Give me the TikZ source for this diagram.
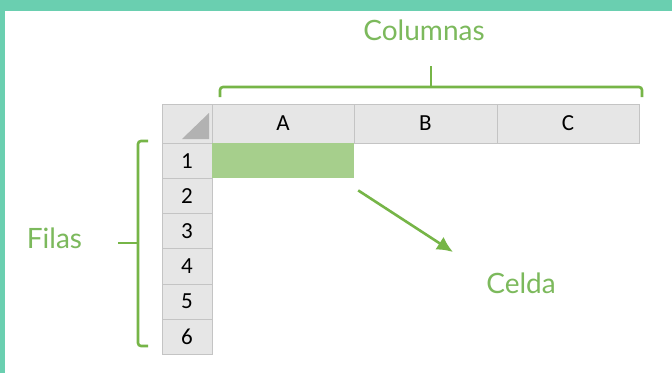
\documentclass[tikz,border=0pt]{standalone}
\usepackage{fontspec}
\setmainfont{Lato}
\newfontfamily\gridfont{Carlito}
\usetikzlibrary{arrows.meta}
\definecolor{frame_teal}{RGB}{106,207,176}
\definecolor{label_green}{RGB}{124,185,92}
\definecolor{brace_green}{RGB}{118,181,71}
\definecolor{cell_green}{RGB}{166,207,140}
\definecolor{head_gray}{RGB}{230,230,230}
\definecolor{grid_gray}{RGB}{196,196,196}
\definecolor{tri_gray}{RGB}{178,178,178}

\begin{document}
\begin{tikzpicture}[x=1pt,y=-1pt,>={Latex[length=16pt,width=15pt]}]
    \tikzstyle{head}=[draw=grid_gray, fill=head_gray, inner sep=0pt, minimum height=39pt, text=black, font=\gridfont\fontsize{23}{23}\selectfont]
    \tikzstyle{colhead}=[style=head, minimum width=142.5pt]
    \tikzstyle{rowhead}=[style=head, minimum width=50pt, minimum height=35.2pt]
    \tikzstyle{lbl}=[text=label_green, font=\fontsize{28}{28}\selectfont]
    \tikzstyle{brace}=[draw=brace_green, line width=2.6pt, rounded corners=3pt]

    % frame
    \fill[white] (0,0) rectangle (672,373);
    \fill[frame_teal] (0,0) rectangle (672,10.5);
    \fill[frame_teal] (0,0) rectangle (5,373);

    % sheet
    \node[head, minimum width=50pt] (corner) at (187,123.5) {};
    \fill[tri_gray] (209,139) -- (209,113) -- (182,139) -- cycle;
    \foreach \c [count=\i from 0] in {A,B,C}
      \node[colhead] (col\c) at (283+142.5*\i,123.5) {\c};
    \foreach \r in {1,...,6}
      \node[rowhead] (row\r) at (187,125.4+35.2*\r) {\r};
    \node[fill=cell_green, inner sep=0pt, minimum width=142pt, minimum height=35.2pt] (cell) at (colA |- row1) {};

    % labels
    \node[lbl] (columnas) at (424,30)  {Columnas};
    \node[lbl] (filas)    at (54.5,238) {Filas};
    \node[lbl] (celda)    at (521,283) {Celda};
    \coordinate (tip) at (453,252);

    % braces
    \draw[brace] (220,97) -- (220,87) -- (642,87) -- (642,97);
    \draw[brace] (431,87) -- (431,66);
    \draw[brace] (148,141) -- (138,141) -- (138,346) -- (148,346);
    \draw[brace] (138,243) -- (118,243);
    \draw[->, draw=brace_green, fill=brace_green, line width=2.6pt] ([xshift=4pt,yshift=-12pt]cell.south east) -- (tip);
\end{tikzpicture}
\end{document}
